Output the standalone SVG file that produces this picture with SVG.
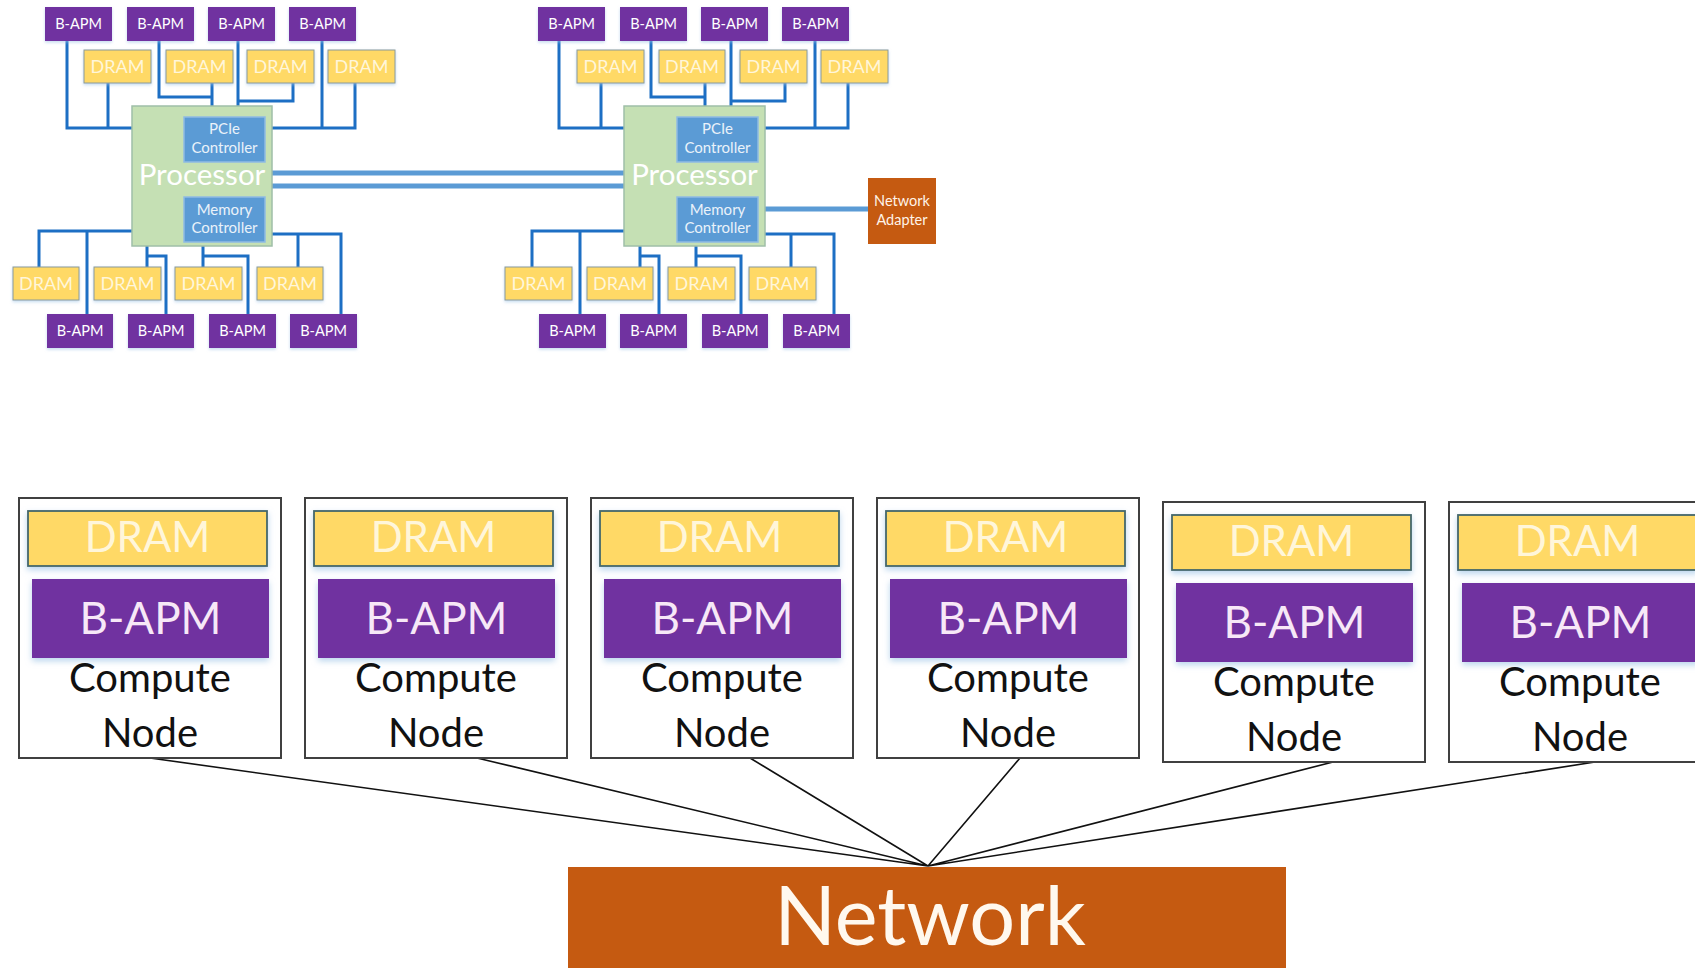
<svg xmlns="http://www.w3.org/2000/svg" width="1695" height="968" viewBox="0 0 1695 968">
<defs>
<filter id="glow" x="-10%" y="-20%" width="120%" height="150%">
<feDropShadow dx="0" dy="3" stdDeviation="3" flood-color="#9dc3e6" flood-opacity="0.7"/>
</filter>
<filter id="glowS" x="-10%" y="-20%" width="120%" height="150%">
<feDropShadow dx="0" dy="1.5" stdDeviation="1.5" flood-color="#9dc3e6" flood-opacity="0.6"/>
</filter>
<style>
text{font-family:Lato,"Liberation Sans",sans-serif;text-anchor:middle}
.bapm{fill:#7030A0;filter:url(#glowS)}
.dram{fill:#FFD966;stroke:#8a9a9a;stroke-width:1;filter:url(#glowS)}
.tb{fill:#ffffff;font-size:14.5px}
.td{fill:#FFF6DA;font-size:18px}
.proc{fill:#C5E0B4;stroke:#9fbfa8;stroke-width:1.5}
.ctrl{fill:#5B9BD5;stroke:#8fbbe3;stroke-width:1.5}
.tc{fill:#EAF2FA;font-size:15px}
.tp{fill:#ffffff;font-size:29.5px}
.orange{fill:#C55A11}
.wire{fill:none;stroke:#1D6FC4;stroke-width:3}
.link{fill:none;stroke:#5B9BD5;stroke-width:5}
.net{fill:none;stroke:#111111;stroke-width:1.6}
.cbox{fill:#ffffff;stroke:#404040;stroke-width:2}
.cdram{fill:#FFD966;stroke:#44666a;stroke-width:1.8;filter:url(#glow)}
.cbapm{fill:#7030A0;filter:url(#glow)}
.tcd{fill:#FFF6DA;font-size:42px}
.tcb{fill:#F7E8F7;font-size:44px}
.tcn{fill:#111111;font-size:40px}
</style>
</defs>
<rect width="1695" height="968" fill="#ffffff"/>

<g id="connectors">
<path class="wire" d="M67,41 V128 H132 M108,83 V128"/>
<path class="wire" d="M159,41 V97 H212 V106 M212,83 V106"/>
<path class="wire" d="M238,41 V106 M293,83 V101 H238"/>
<path class="wire" d="M272,128 H355 V83 M322,41 V128"/>
<path class="wire" d="M132,231 H39 V267 M87,231 V314"/>
<path class="wire" d="M147,246 V267 M147,256 H166 V314"/>
<path class="wire" d="M203,246 V267 M203,256 H248 V314"/>
<path class="wire" d="M272,234 H341 V314 M298,234 V267"/>
<path class="wire" d="M559,41 V128 H624 M601,83 V128"/>
<path class="wire" d="M651,41 V97 H705 V106 M705,83 V106"/>
<path class="wire" d="M731,41 V106 M785,83 V101 H731"/>
<path class="wire" d="M764,128 H848 V83 M815,41 V128"/>
<path class="wire" d="M624,231 H532 V267 M580,231 V314"/>
<path class="wire" d="M640,246 V267 M640,256 H659 V314"/>
<path class="wire" d="M696,246 V267 M696,256 H741 V314"/>
<path class="wire" d="M764,234 H834 V314 M791,234 V267"/>
<path class="link" d="M272,173 H624 M272,186 H624"/>
<path class="link" d="M765,209 H868"/>
<path class="net" d="M150,758 L928,866 M477,758 L928,866 M750,758 L928,866 M1020,758 L928,866 M1333,762 L928,866 M1595,762 L928,866"/>
</g>

<g id="s1-proc"><rect class="proc" x="132" y="106" width="140" height="140"/><text class="tp" x="202" y="185">Processor</text></g>
<g id="s1-pcie"><rect class="ctrl" x="184" y="117" width="81" height="45"/><text class="tc" x="224.5" y="134">PCIe</text><text class="tc" x="224.5" y="153">Controller</text></g>
<g id="s1-mem"><rect class="ctrl" x="184" y="197" width="81" height="45"/><text class="tc" x="224.5" y="215">Memory</text><text class="tc" x="224.5" y="233">Controller</text></g>

<g id="s1-bapm-t1"><rect class="bapm" x="45" y="7" width="67" height="34"/><text class="tb" x="78.5" y="29">B-APM</text></g>
<g id="s1-bapm-t2"><rect class="bapm" x="127" y="7" width="67" height="34"/><text class="tb" x="160.5" y="29">B-APM</text></g>
<g id="s1-bapm-t3"><rect class="bapm" x="208" y="7" width="67" height="34"/><text class="tb" x="241.5" y="29">B-APM</text></g>
<g id="s1-bapm-t4"><rect class="bapm" x="289" y="7" width="67" height="34"/><text class="tb" x="322.5" y="29">B-APM</text></g>
<g id="s1-dram-t1"><rect class="dram" x="84" y="50" width="67" height="33"/><text class="td" x="117.5" y="73">DRAM</text></g>
<g id="s1-dram-t2"><rect class="dram" x="166" y="50" width="67" height="33"/><text class="td" x="199.5" y="73">DRAM</text></g>
<g id="s1-dram-t3"><rect class="dram" x="247" y="50" width="67" height="33"/><text class="td" x="280.5" y="73">DRAM</text></g>
<g id="s1-dram-t4"><rect class="dram" x="328" y="50" width="67" height="33"/><text class="td" x="361.5" y="73">DRAM</text></g>
<g id="s1-dram-b1"><rect class="dram" x="13" y="267" width="66" height="33"/><text class="td" x="46" y="290">DRAM</text></g>
<g id="s1-dram-b2"><rect class="dram" x="94" y="267" width="67" height="33"/><text class="td" x="127.5" y="290">DRAM</text></g>
<g id="s1-dram-b3"><rect class="dram" x="175" y="267" width="67" height="33"/><text class="td" x="208.5" y="290">DRAM</text></g>
<g id="s1-dram-b4"><rect class="dram" x="257" y="267" width="66" height="33"/><text class="td" x="290" y="290">DRAM</text></g>
<g id="s1-bapm-b1"><rect class="bapm" x="47" y="314" width="66" height="34"/><text class="tb" x="80" y="336">B-APM</text></g>
<g id="s1-bapm-b2"><rect class="bapm" x="128" y="314" width="66" height="34"/><text class="tb" x="161" y="336">B-APM</text></g>
<g id="s1-bapm-b3"><rect class="bapm" x="209" y="314" width="67" height="34"/><text class="tb" x="242.5" y="336">B-APM</text></g>
<g id="s1-bapm-b4"><rect class="bapm" x="290" y="314" width="67" height="34"/><text class="tb" x="323.5" y="336">B-APM</text></g>

<g id="s2-proc"><rect class="proc" x="624" y="106" width="141" height="140"/><text class="tp" x="694.5" y="185">Processor</text></g>
<g id="s2-pcie"><rect class="ctrl" x="677" y="117" width="81" height="45"/><text class="tc" x="717.5" y="134">PCIe</text><text class="tc" x="717.5" y="153">Controller</text></g>
<g id="s2-mem"><rect class="ctrl" x="677" y="197" width="81" height="45"/><text class="tc" x="717.5" y="215">Memory</text><text class="tc" x="717.5" y="233">Controller</text></g>
<g id="s2-netadapter"><rect class="orange" x="868" y="178" width="68" height="66"/><text class="tc" x="902" y="206" style="fill:#FFF3E8;font-size:14.5px">Network</text><text class="tc" x="902" y="225" style="fill:#FFF3E8;font-size:14.5px">Adapter</text></g>

<g id="s2-bapm-t1"><rect class="bapm" x="538" y="7" width="67" height="34"/><text class="tb" x="571.5" y="29">B-APM</text></g>
<g id="s2-bapm-t2"><rect class="bapm" x="620" y="7" width="67" height="34"/><text class="tb" x="653.5" y="29">B-APM</text></g>
<g id="s2-bapm-t3"><rect class="bapm" x="701" y="7" width="67" height="34"/><text class="tb" x="734.5" y="29">B-APM</text></g>
<g id="s2-bapm-t4"><rect class="bapm" x="782" y="7" width="67" height="34"/><text class="tb" x="815.5" y="29">B-APM</text></g>
<g id="s2-dram-t1"><rect class="dram" x="577" y="50" width="67" height="33"/><text class="td" x="610.5" y="73">DRAM</text></g>
<g id="s2-dram-t2"><rect class="dram" x="659" y="50" width="66" height="33"/><text class="td" x="692" y="73">DRAM</text></g>
<g id="s2-dram-t3"><rect class="dram" x="740" y="50" width="67" height="33"/><text class="td" x="773.5" y="73">DRAM</text></g>
<g id="s2-dram-t4"><rect class="dram" x="821" y="50" width="67" height="33"/><text class="td" x="854.5" y="73">DRAM</text></g>
<g id="s2-dram-b1"><rect class="dram" x="505" y="267" width="67" height="33"/><text class="td" x="538.5" y="290">DRAM</text></g>
<g id="s2-dram-b2"><rect class="dram" x="587" y="267" width="66" height="33"/><text class="td" x="620" y="290">DRAM</text></g>
<g id="s2-dram-b3"><rect class="dram" x="668" y="267" width="67" height="33"/><text class="td" x="701.5" y="290">DRAM</text></g>
<g id="s2-dram-b4"><rect class="dram" x="749" y="267" width="67" height="33"/><text class="td" x="782.5" y="290">DRAM</text></g>
<g id="s2-bapm-b1"><rect class="bapm" x="539" y="314" width="67" height="34"/><text class="tb" x="572.5" y="336">B-APM</text></g>
<g id="s2-bapm-b2"><rect class="bapm" x="620" y="314" width="67" height="34"/><text class="tb" x="653.5" y="336">B-APM</text></g>
<g id="s2-bapm-b3"><rect class="bapm" x="702" y="314" width="66" height="34"/><text class="tb" x="735" y="336">B-APM</text></g>
<g id="s2-bapm-b4"><rect class="bapm" x="783" y="314" width="67" height="34"/><text class="tb" x="816.5" y="336">B-APM</text></g>

<g id="node1">
<rect class="cbox" x="19" y="498" width="262" height="260"/>
<rect class="cdram" x="28" y="511" width="239" height="55"/><text class="tcd" x="147.5" y="552">DRAM</text>
<rect class="cbapm" x="32" y="579" width="237" height="79"/><text class="tcb" x="150.5" y="634">B-APM</text>
<text class="tcn" x="150" y="692">Compute</text><text class="tcn" x="150" y="747">Node</text>
</g>
<g id="node2">
<rect class="cbox" x="305" y="498" width="262" height="260"/>
<rect class="cdram" x="314" y="511" width="239" height="55"/><text class="tcd" x="433.5" y="552">DRAM</text>
<rect class="cbapm" x="318" y="579" width="237" height="79"/><text class="tcb" x="436.5" y="634">B-APM</text>
<text class="tcn" x="436" y="692">Compute</text><text class="tcn" x="436" y="747">Node</text>
</g>
<g id="node3">
<rect class="cbox" x="591" y="498" width="262" height="260"/>
<rect class="cdram" x="600" y="511" width="239" height="55"/><text class="tcd" x="719.5" y="552">DRAM</text>
<rect class="cbapm" x="604" y="579" width="237" height="79"/><text class="tcb" x="722.5" y="634">B-APM</text>
<text class="tcn" x="722" y="692">Compute</text><text class="tcn" x="722" y="747">Node</text>
</g>
<g id="node4">
<rect class="cbox" x="877" y="498" width="262" height="260"/>
<rect class="cdram" x="886" y="511" width="239" height="55"/><text class="tcd" x="1005.5" y="552">DRAM</text>
<rect class="cbapm" x="890" y="579" width="237" height="79"/><text class="tcb" x="1008.5" y="634">B-APM</text>
<text class="tcn" x="1008" y="692">Compute</text><text class="tcn" x="1008" y="747">Node</text>
</g>
<g id="node5">
<rect class="cbox" x="1163" y="502" width="262" height="260"/>
<rect class="cdram" x="1172" y="515" width="239" height="55"/><text class="tcd" x="1291.5" y="556">DRAM</text>
<rect class="cbapm" x="1176" y="583" width="237" height="79"/><text class="tcb" x="1294.5" y="638">B-APM</text>
<text class="tcn" x="1294" y="696">Compute</text><text class="tcn" x="1294" y="751">Node</text>
</g>
<g id="node6">
<rect class="cbox" x="1449" y="502" width="262" height="260"/>
<rect class="cdram" x="1458" y="515" width="239" height="55"/><text class="tcd" x="1577.5" y="556">DRAM</text>
<rect class="cbapm" x="1462" y="583" width="237" height="79"/><text class="tcb" x="1580.5" y="638">B-APM</text>
<text class="tcn" x="1580" y="696">Compute</text><text class="tcn" x="1580" y="751">Node</text>
</g>

<g id="network">
<rect class="orange" x="568" y="867" width="718" height="110"/>
<text x="930" y="945" style="fill:#FFF8EE;font-size:81px">Network</text>
</g>
</svg>
